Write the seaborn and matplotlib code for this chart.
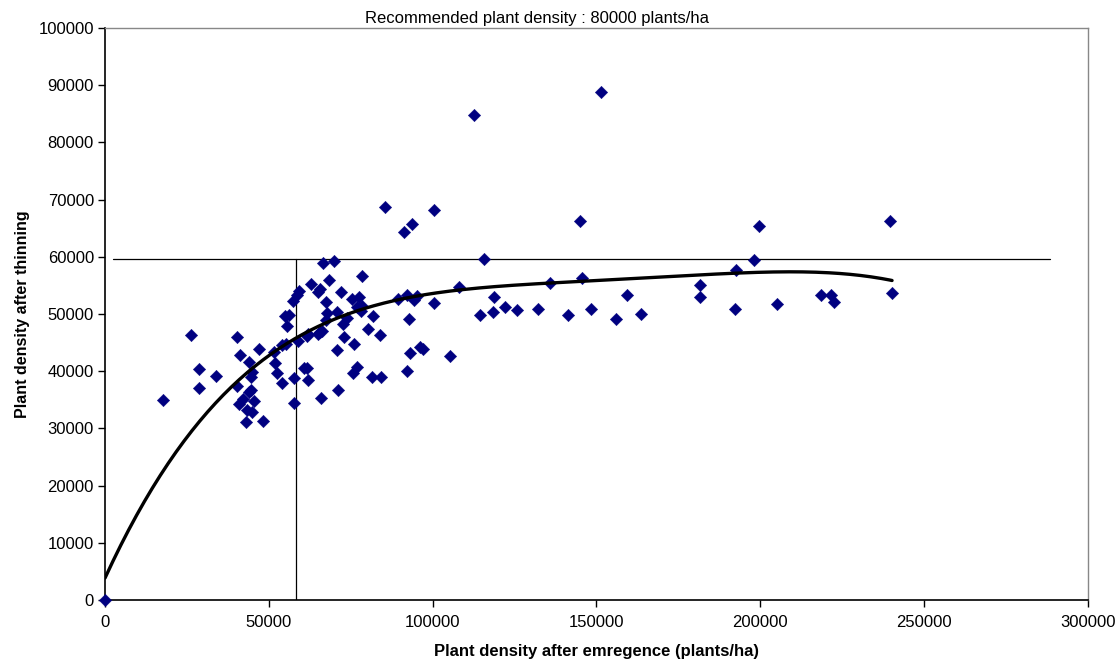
import numpy as np
import pandas as pd
import matplotlib
matplotlib.use("Agg")
import matplotlib.pyplot as plt
import seaborn as sns

# Plant density after emergence (plants/ha)
emergence = [
    0, 17600, 26200, 28700, 28700, 33800, 40200, 40200, 41200, 43900,
    47000, 44800, 44500, 44600, 43800, 42000, 40900, 45500, 43200, 45000,
    42900, 48100, 51600, 52000, 52600, 53900, 54000, 55200, 55400, 54900,
    56200, 57500, 58700, 59100, 59000, 57600, 57800, 60800, 61800, 62000,
    65800, 71000, 70800, 73000, 72600, 70900, 67900, 67300, 62100, 61500,
    65000, 65600, 66200, 66600, 69800, 62900, 68500, 65500, 65100, 72000,
    67300, 75500, 77400, 78300, 74000, 76000, 76900, 78300, 78000, 81700,
    80200, 83800, 76900, 75800, 81600, 84100, 92100, 93200, 96200, 97100,
    105300, 85400, 100300, 93800, 91200, 89300, 92300, 95200, 94400, 92700,
    100300, 108100, 114300, 112700, 151400, 144900, 115600, 118800, 118500, 122200,
    125700, 132200, 135900, 141200, 145500, 148300, 156000, 159300, 163700, 181700,
    181700, 199700, 198100, 192600, 192200, 205200, 218400, 221500, 222600, 239600,
    240200,
]
# Plant density after thinning (plants/ha)
thinning = [
    0, 35000, 46400, 40400, 37100, 39200, 46000, 37500, 42900, 41600,
    43900, 39800, 38900, 36800, 36400, 35200, 34200, 34800, 33200, 32900,
    31200, 31300, 43400, 41500, 39600, 37900, 44500, 44700, 47900, 49600,
    49900, 52300, 53400, 54100, 45200, 38800, 34400, 40500, 40500, 38400,
    35400, 36700, 43700, 45900, 48200, 50300, 50100, 49000, 46500, 46100,
    46500, 46800, 47100, 59000, 59300, 55200, 56000, 54300, 53800, 53800,
    52100, 52600, 52900, 56600, 49300, 44700, 51200, 51400, 50500, 49600,
    47300, 46400, 40700, 39600, 39000, 39000, 40000, 43200, 44300, 43800,
    42600, 68700, 68100, 65700, 64400, 52600, 53400, 53200, 52400, 49200,
    51900, 54700, 49800, 84800, 88800, 66200, 59600, 53000, 50400, 51300,
    50700, 50900, 55400, 49800, 56300, 50900, 49200, 53300, 50000, 55000,
    52900, 65400, 59400, 57700, 50900, 51700, 53400, 53400, 52100, 66300,
    53600,
]
# Polynomial trend line
trend_x = [0, 22100, 24400, 38400, 49800, 58500, 78800, 89000, 114400,
           145000, 175500, 206000, 221300, 240600]
trend_y = [3800, 26200, 28100, 37300, 42500, 45600, 51000, 52600, 54500,
           55700, 56600, 57400, 57200, 55800]
trend_degree = 5

recommended_x = 58300
recommended_y = 59600
hline_span = [2400, 288400]

title_text = "Recommended plant density : 80000 plants/ha"
xlabel_text = "Plant density after emregence (plants/ha)"
ylabel_text = "Plant density after thinning"

df = pd.DataFrame({"emergence": emergence, "thinning": thinning})

sns.set_style("white")
plt.rcParams["font.family"] = ["Liberation Sans", "DejaVu Sans"]
plt.rcParams["text.color"] = "black"
plt.rcParams["axes.labelcolor"] = "black"
plt.rcParams["xtick.color"] = "black"
plt.rcParams["ytick.color"] = "black"

fig = plt.figure(figsize=(11.19, 6.66), dpi=100)
ax = fig.add_axes([105 / 1119, 1 - 600 / 666, (1088 - 105) / 1119, (600 - 28) / 666])

# reference lines
ax.plot([recommended_x, recommended_x], [0, recommended_y], color="black", lw=0.9, zorder=1)
ax.plot(hline_span, [recommended_y, recommended_y], color="black", lw=0.9, zorder=1)

sns.scatterplot(data=df, x="emergence", y="thinning", marker="D", s=40,
                color="#000080", edgecolor="#000080", linewidth=0.3,
                ax=ax, zorder=3, clip_on=False)

# polynomial trend line
coef = np.polyfit(np.array(trend_x) / 1e5, trend_y, trend_degree)
xs = np.linspace(0, max(emergence), 300)
ax.plot(xs, np.polyval(coef, xs / 1e5), color="black", lw=2.4, zorder=4)

ax.set_xlim(0, 300000)
ax.set_ylim(0, 100000)
ax.set_xticks(np.arange(0, 300001, 50000))
ax.set_yticks(np.arange(0, 100001, 10000))
ax.tick_params(axis="both", direction="out", length=5, width=1, color="black",
               labelcolor="black", labelsize=12, left=True, bottom=True)
ax.tick_params(axis="y", pad=3)
ax.tick_params(axis="x", pad=6)
for s in ["left", "bottom"]:
    ax.spines[s].set_color("black")
    ax.spines[s].set_linewidth(1.2)
for s in ["top", "right"]:
    ax.spines[s].set_color("#888888")
    ax.spines[s].set_linewidth(1.0)

ax.set_xlabel(xlabel_text, fontsize=12, fontweight="bold", labelpad=10, color="black")
ax.set_ylabel(ylabel_text, fontsize=11.5, fontweight="bold", labelpad=6, color="black")
fig.text(537 / 1119, 1 - 18 / 666, title_text, ha="center", va="center",
         fontsize=12, color="black")

fig.savefig("out.png", dpi=100)
